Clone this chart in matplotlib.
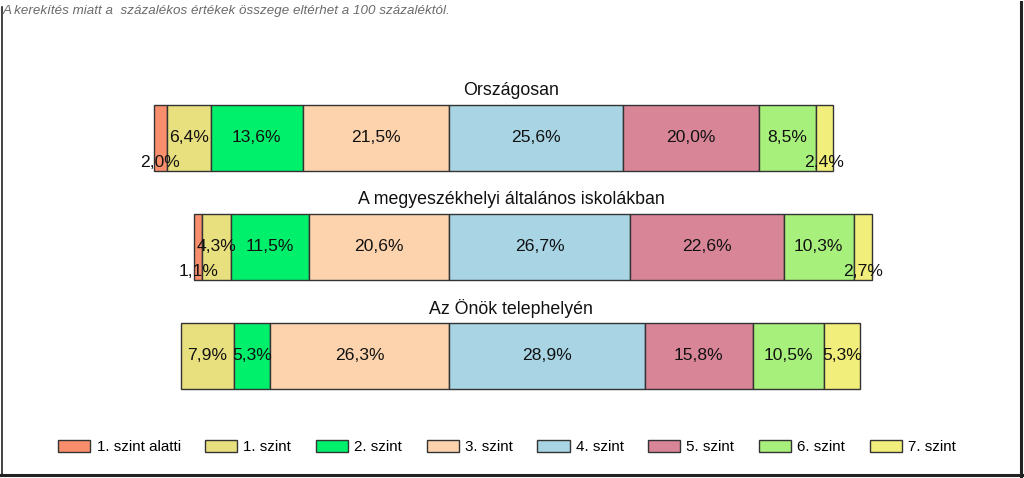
import matplotlib
matplotlib.use("Agg")
import matplotlib.pyplot as plt
from matplotlib.patches import Patch
from matplotlib.lines import Line2D

categories = ["Országosan", "A megyeszékhelyi általános iskolákban", "Az Önök telephelyén"]
levels = ["1. szint alatti", "1. szint", "2. szint", "3. szint",
          "4. szint", "5. szint", "6. szint", "7. szint"]
lvl_below1 = [2.0, 1.1, 0.0]
lvl_1 = [6.4, 4.3, 7.9]
lvl_2 = [13.6, 11.5, 5.3]
lvl_3 = [21.5, 20.6, 26.3]
lvl_4 = [25.6, 26.7, 28.9]
lvl_5 = [20.0, 22.6, 15.8]
lvl_6 = [8.5, 10.3, 10.5]
lvl_7 = [2.4, 2.7, 5.3]
series = [lvl_below1, lvl_1, lvl_2, lvl_3, lvl_4, lvl_5, lvl_6, lvl_7]
colors = ["#F98E6C", "#E8DF7E", "#00F06C", "#FDD3AE",
          "#A8D4E4", "#D98598", "#A8F07C", "#F2EE7C"]
note = "A kerekítés miatt a  százalékos értékek összege eltérhet a 100 százaléktól."

plt.rcParams['font.family'] = ['Liberation Sans', 'DejaVu Sans']

W, H = 1024, 478
fig = plt.figure(figsize=(W / 100, H / 100), dpi=100)
ax = fig.add_axes([0, 0, 1, 1])
ax.axis('off')

px_per_pct = 6.79
center_px = 449
ax.set_xlim(-center_px / px_per_pct, (W - center_px) / px_per_pct)
row_px = 109
first_center_px = 137.5
ax.set_ylim((H - first_center_px) / row_px, -first_center_px / row_px)

bar_h = 66 / row_px
edge = "#333333"
for i, cat in enumerate(categories):
    left = -(series[0][i] + series[1][i] + series[2][i] + series[3][i])
    for s, vals in enumerate(series):
        v = vals[i]
        if v <= 0:
            continue
        ax.barh(i, v, left=left, height=bar_h, color=colors[s],
                edgecolor=edge, linewidth=1.0)
        ty = i + (0.225 if v < 3 else 0)
        ax.text(left + v / 2, ty, f"{v:.1f}%".replace('.', ','),
                ha='center', va='center', fontsize=12.6, color='#111111')
        left += v
    ax.text(511 / W, 1 - (first_center_px - 47 + i * row_px) / H, cat,
            transform=ax.transAxes, ha='center', va='center',
            fontsize=12.8, color='#111111')

handles = [Patch(facecolor=c, edgecolor=edge, linewidth=1.0) for c in colors]
fig.legend(handles, levels, loc='center', bbox_to_anchor=(507 / W, 1 - 447 / H),
           ncol=8, frameon=False, fontsize=10.9, handlelength=2.13,
           handleheight=0.87, handletextpad=0.4, columnspacing=1.62)

fig.text(3 / W, 1 - 11 / H, note, ha='left', va='center', fontsize=9.65,
         style='italic', color='#6a6a6a')

# frame
fig.add_artist(Line2D([1.5 / W, 1.5 / W], [1 - 7 / H, 1 - 475 / H],
                      transform=fig.transFigure, color='#222222', lw=1.2))
fig.add_artist(Line2D([1021 / W, 1021 / W], [1 - 2 / H, 1 - 475.5 / H],
                      transform=fig.transFigure, color='#222222', lw=2.2))
fig.add_artist(Line2D([1 / W, 1022 / W], [1 - 475 / H, 1 - 475 / H],
                      transform=fig.transFigure, color='#222222', lw=2.2))

fig.savefig("out.png", dpi=100)
